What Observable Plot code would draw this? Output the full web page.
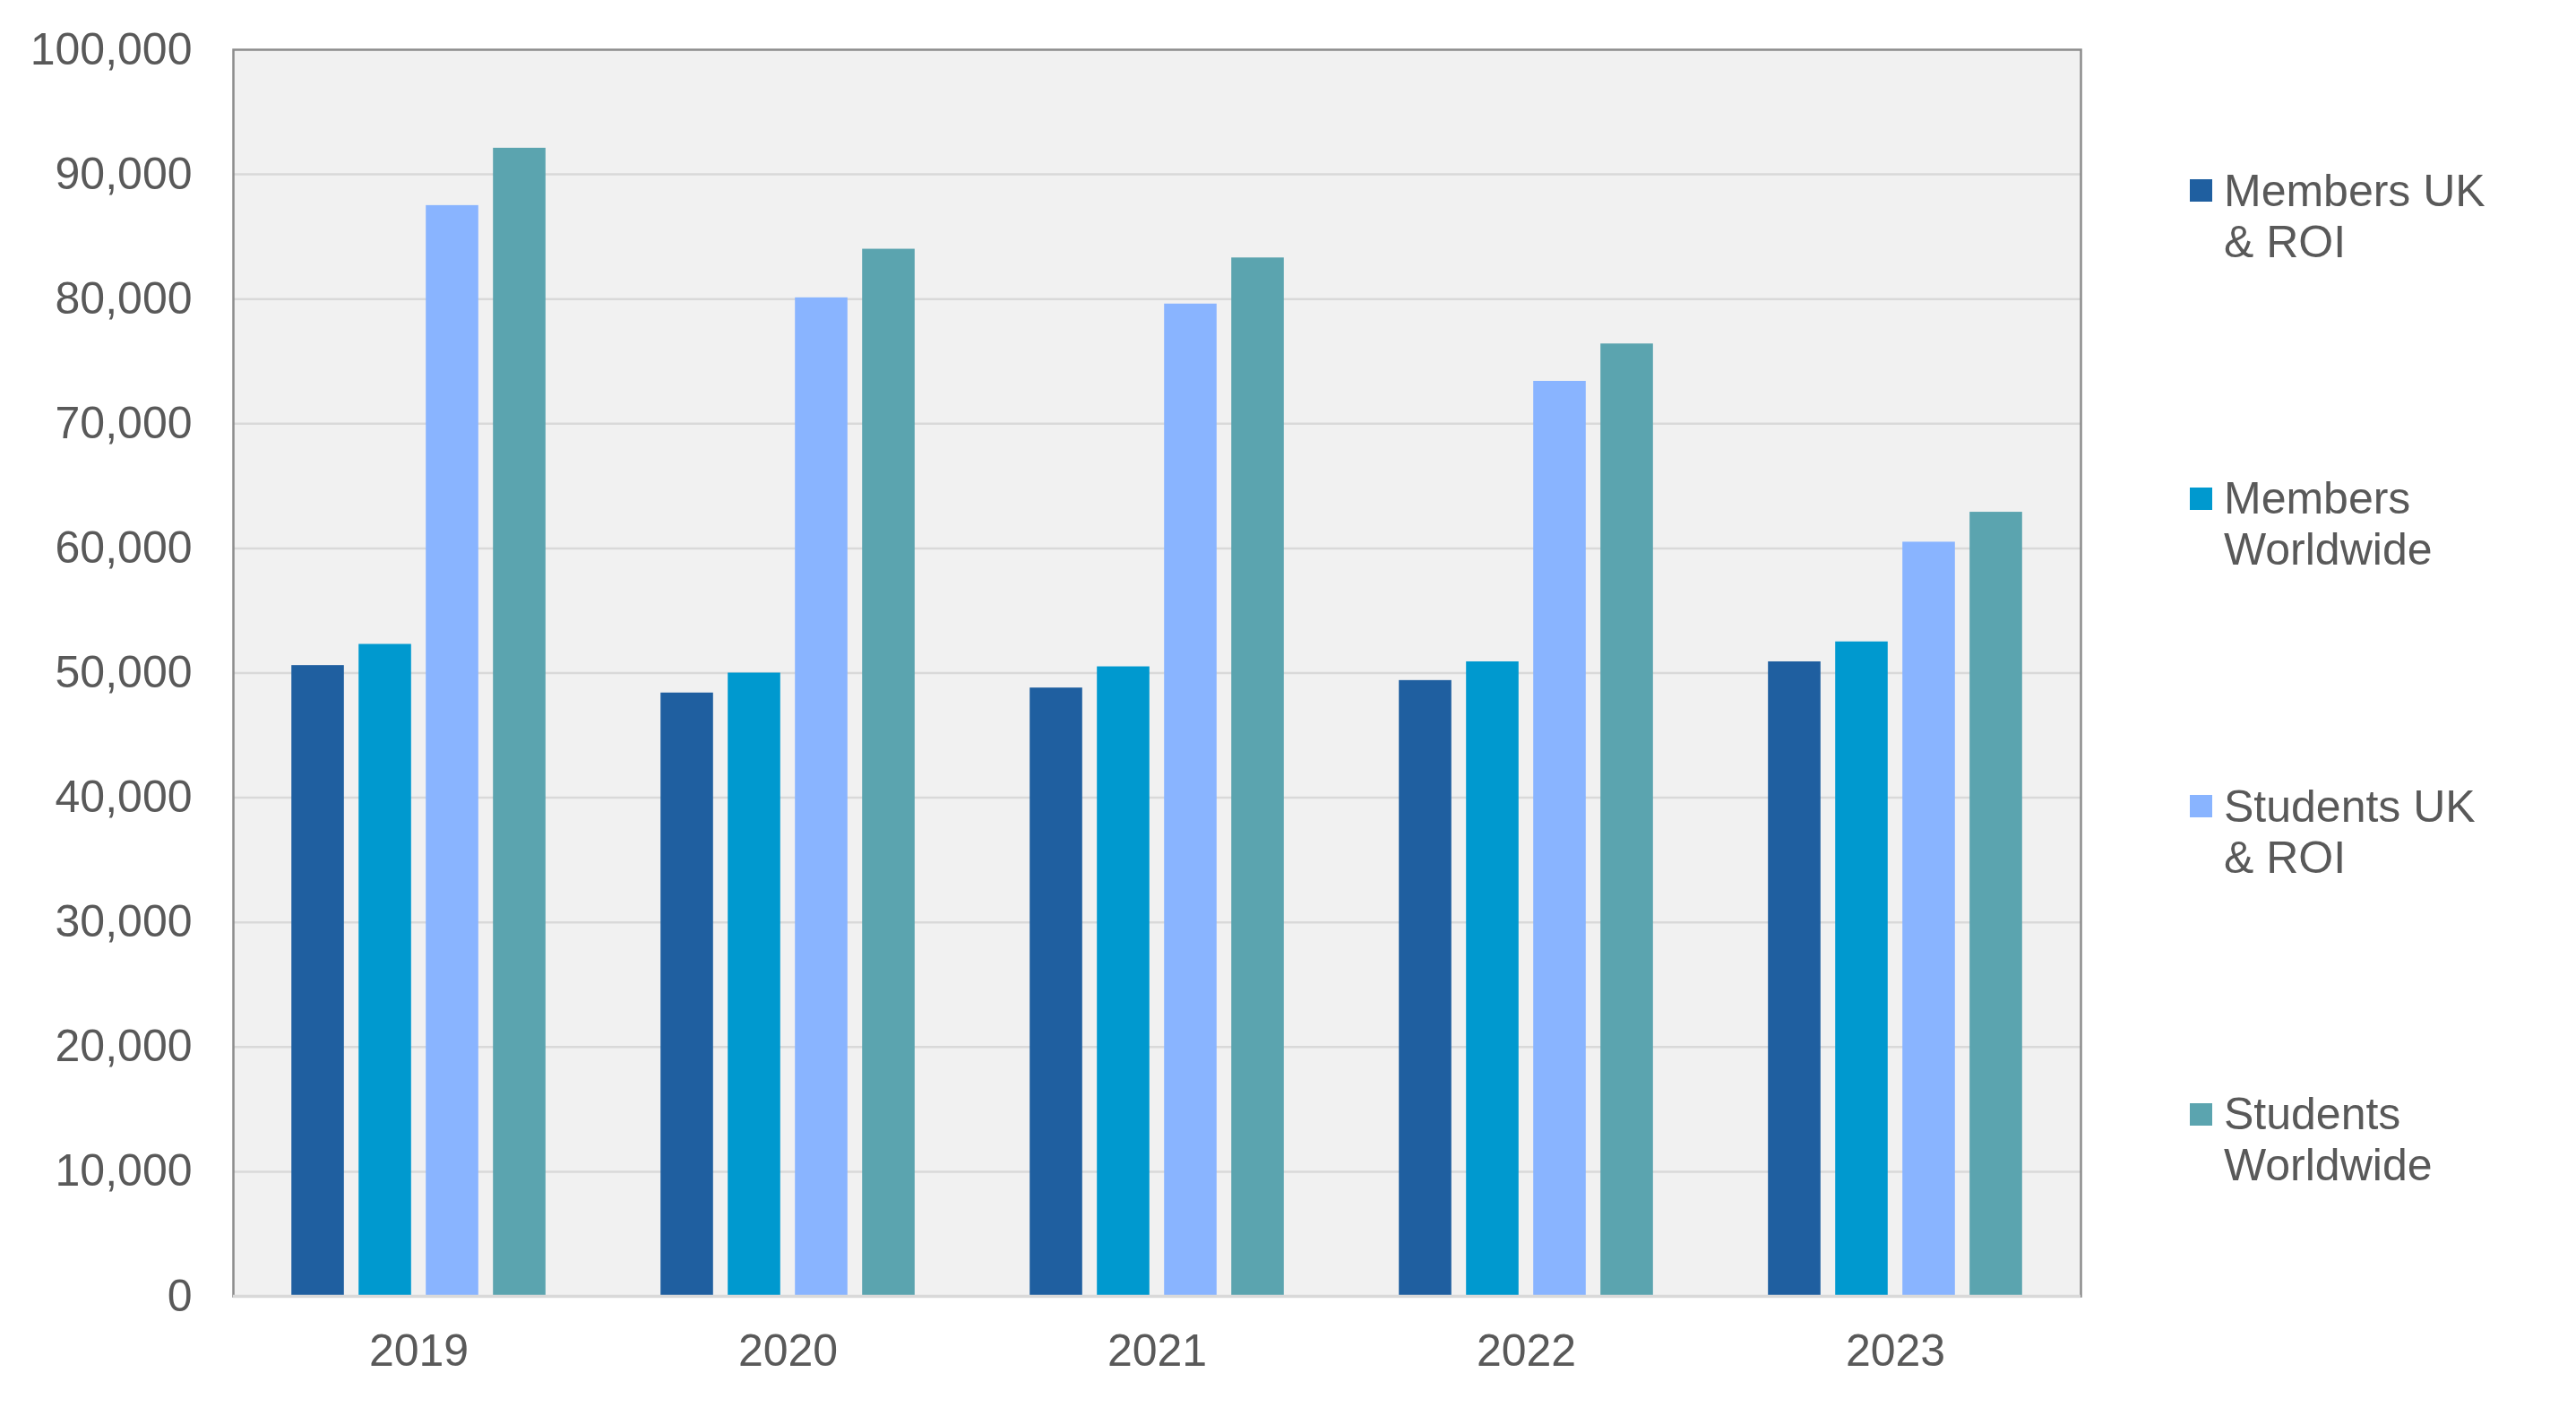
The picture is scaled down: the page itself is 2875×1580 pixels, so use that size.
<!DOCTYPE html>
<html>
<head>
<meta charset="utf-8">
<script src="https://cdn.jsdelivr.net/npm/d3@7"></script>
<script src="https://cdn.jsdelivr.net/npm/@observablehq/plot@0.6"></script>
<style>
  html, body { margin: 0; padding: 0; background: #ffffff; }
  #wrap { position: relative; width: 2875px; height: 1580px; font-family: "Liberation Sans", Arial, sans-serif; }
  #chart { position: absolute; left: 0; top: 0; }
  .leg-item { position: absolute; left: 2444px; font-size: 50px; line-height: 57px; color: #595959; }
  .leg-sw { position: absolute; left: 0; top: 15.5px; width: 25px; height: 25px; }
  .leg-tx { position: absolute; left: 38px; top: 0; white-space: nowrap; }
</style>
</head>
<body>
<div id="wrap">
  <div id="chart"></div>
  <div id="legend"></div>
</div>
<script>
// ---- data ----
const years = ["2019", "2020", "2021", "2022", "2023"];
const seriesNames = ["Members UK & ROI", "Members Worldwide", "Students UK & ROI", "Students Worldwide"];
const legendLines = [["Members UK", "& ROI"], ["Members", "Worldwide"], ["Students UK", "& ROI"], ["Students", "Worldwide"]];
const membersUK = [50600, 48400, 48800, 49400, 50900];
const membersWorldwide = [52300, 50000, 50500, 50900, 52500];
const studentsUK = [87500, 80100, 79600, 73400, 60500];
const studentsWorldwide = [92100, 84000, 83300, 76400, 62900];
const yTicks = [0, 10000, 20000, 30000, 40000, 50000, 60000, 70000, 80000, 90000, 100000];
const colors = ["#1F5FA0", "#0099CF", "#89B4FF", "#5BA4AF"];

const seriesValues = [membersUK, membersWorldwide, studentsUK, studentsWorldwide];

// ---- layout ----
const W = 2380, H = 1580;
const mL = 260, mR = 58, mT = 55, mB = 134;
const bandW = (W - mL - mR) / years.length;
const barW = 59, barStep = 75;
const groupW = barStep * (seriesNames.length - 1) + barW;
const pad = (bandW - groupW) / 2;

const barMarks = seriesValues.map((vals, i) => {
  const data = years.map((y, j) => ({year: y, value: vals[j], series: seriesNames[i]}));
  const insetLeft = pad + i * barStep;
  const insetRight = bandW - insetLeft - barW;
  return Plot.barY(data, {x: "year", y: "value", fill: colors[i], insetLeft, insetRight});
});

const plot = Plot.plot({
  width: W,
  height: H,
  marginLeft: mL,
  marginRight: mR,
  marginTop: mT,
  marginBottom: mB,
  style: {fontFamily: "'Liberation Sans', Arial, sans-serif", color: "#595959", background: "transparent"},
  x: {domain: years, padding: 0, label: null},
  y: {domain: [0, 100000], label: null},
  marks: [
    Plot.frame({fill: "#F1F1F1", stroke: null}),
    Plot.ruleY(yTicks.slice(1, -1), {stroke: "#D9D9D9", strokeWidth: 2.5}),
    ...barMarks,
    Plot.frame({stroke: "#8C8C8C", strokeWidth: 2.5}),
    Plot.ruleY([0], {stroke: "#D9D9D9", strokeWidth: 3.5}),
    Plot.axisY({ticks: yTicks, tickSize: 0, tickPadding: 46, fontSize: 50, tickFormat: d3.format(","), label: null}),
    Plot.axisX({tickSize: 0, tickPadding: 42, fontSize: 50, label: null})
  ]
});
document.getElementById("chart").appendChild(plot);

// ---- legend ----
const legend = document.getElementById("legend");
legendLines.forEach((lines, i) => {
  const item = document.createElement("div");
  item.className = "leg-item";
  item.style.top = (184.5 + i * 343.5) + "px";
  const sw = document.createElement("div");
  sw.className = "leg-sw";
  sw.style.background = colors[i];
  const tx = document.createElement("div");
  tx.className = "leg-tx";
  tx.innerHTML = lines.map(l => l.replace(/&/g, "&amp;")).join("<br>");
  item.appendChild(sw);
  item.appendChild(tx);
  legend.appendChild(item);
});
</script>
</body>
</html>
